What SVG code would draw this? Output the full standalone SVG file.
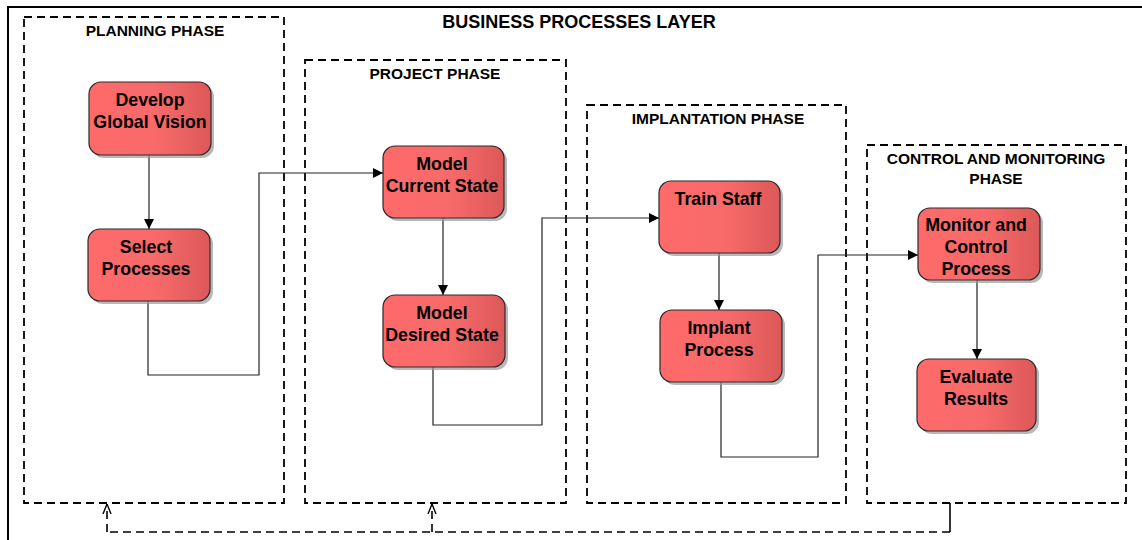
<svg xmlns="http://www.w3.org/2000/svg" width="1142" height="540" viewBox="0 0 1142 540">
  <style>
    .frame { fill: none; stroke: #000; stroke-width: 2; }
    .phase { fill: none; stroke: #000; stroke-width: 1.8; stroke-dasharray: 8 5; }
    .phase-title { font-family: "Liberation Sans", Arial, sans-serif; font-weight: bold; font-size: 15.5px; fill: #000; text-anchor: middle; }
    .layer-title { font-family: "Liberation Sans", Arial, sans-serif; font-weight: bold; font-size: 18px; fill: #000; text-anchor: middle; }
    .node-box { fill: url(#nodeFill); stroke: #2a2a2a; stroke-width: 1.2; }
    .node-shadow { fill: #9a9a9a; opacity: 0.7; }
    .node-label { font-family: "Liberation Sans", Arial, sans-serif; font-weight: bold; font-size: 17.8px; fill: #000; text-anchor: middle; }
    .flow { fill: none; stroke: #222; stroke-width: 1.2; }
    .feedback { fill: none; stroke: #000; stroke-width: 1.6; stroke-dasharray: 8 5; }
    .feedback-solid { fill: none; stroke: #000; stroke-width: 1.6; }
  </style>
  <defs>
    <linearGradient id="nodeFill" x1="0" y1="0" x2="1" y2="0">
      <stop offset="0" stop-color="#ff6a6a"/>
      <stop offset="0.55" stop-color="#f86a6a"/>
      <stop offset="1" stop-color="#dc5858"/>
    </linearGradient>
    <marker id="arrow" viewBox="0 0 10 10" refX="10" refY="5" markerWidth="10" markerHeight="10" markerUnits="userSpaceOnUse" orient="auto">
      <path d="M0,0 L10,5 L0,10 Z" fill="#000"/>
    </marker>
    <marker id="openArrow" viewBox="0 0 10 12" refX="10" refY="6" markerWidth="10" markerHeight="12" markerUnits="userSpaceOnUse" orient="auto">
      <path d="M0,2 L10,6 L0,10" fill="none" stroke="#000" stroke-width="1.4"/>
    </marker>
  </defs>

  <rect width="1142" height="540" fill="#fff"/>

  <!-- outer layer frame (open at the right and bottom) -->
  <path class="frame" d="M8,540 L8,7 L1142,7"/>
  <text class="layer-title" x="579" y="28">BUSINESS PROCESSES LAYER</text>

  <!-- phase containers -->
  <g id="phase-planning">
    <rect class="phase" x="24" y="17" width="260" height="486"/>
    <text class="phase-title" x="155" y="36">PLANNING PHASE</text>
  </g>
  <g id="phase-project">
    <rect class="phase" x="305" y="60" width="261" height="443"/>
    <text class="phase-title" x="435" y="79">PROJECT PHASE</text>
  </g>
  <g id="phase-implantation">
    <rect class="phase" x="587" y="105" width="259" height="398"/>
    <text class="phase-title" x="718" y="124">IMPLANTATION PHASE</text>
  </g>
  <g id="phase-control">
    <rect class="phase" x="867" y="145" width="259" height="358"/>
    <text class="phase-title" x="996" y="164">CONTROL AND MONITORING</text>
    <text class="phase-title" x="996" y="184">PHASE</text>
  </g>

  <!-- connectors -->
  <g id="connectors">
    <path class="flow" d="M149,155 L149,229" marker-end="url(#arrow)"/>
    <path class="flow" d="M148,301 L148,375 L259,375 L259,173 L383,173" marker-end="url(#arrow)"/>
    <path class="flow" d="M443,218 L443,295" marker-end="url(#arrow)"/>
    <path class="flow" d="M433,367 L433,425 L542,425 L542,218 L659,218" marker-end="url(#arrow)"/>
    <path class="flow" d="M719,253 L719,310" marker-end="url(#arrow)"/>
    <path class="flow" d="M721,382 L721,457 L818,457 L818,255 L918,255" marker-end="url(#arrow)"/>
    <path class="flow" d="M977,280 L977,359" marker-end="url(#arrow)"/>

    <!-- feedback loop back to earlier phases -->
    <path class="feedback-solid" d="M950,503 L950,532"/>
    <path class="feedback" d="M950,532 L107,532"/>
    <path class="feedback" d="M107,532 L107,504" marker-end="url(#openArrow)"/>
    <path class="feedback" d="M432,532 L432,504" marker-end="url(#openArrow)"/>
  </g>

  <!-- process nodes -->
  <g id="node-develop-global-vision">
    <rect class="node-shadow" x="92" y="85" width="122" height="73" rx="12"/>
    <rect class="node-box" x="89" y="82" width="122" height="73" rx="12"/>
    <text class="node-label" x="150" y="106">Develop</text>
    <text class="node-label" x="150" y="128">Global Vision</text>
  </g>
  <g id="node-select-processes">
    <rect class="node-shadow" x="91" y="232" width="122" height="72" rx="12"/>
    <rect class="node-box" x="88" y="229" width="122" height="72" rx="12"/>
    <text class="node-label" x="146" y="253">Select</text>
    <text class="node-label" x="146" y="275">Processes</text>
  </g>
  <g id="node-model-current-state">
    <rect class="node-shadow" x="386" y="149" width="121" height="72" rx="12"/>
    <rect class="node-box" x="383" y="146" width="121" height="72" rx="12"/>
    <text class="node-label" x="442" y="170">Model</text>
    <text class="node-label" x="442" y="192">Current State</text>
  </g>
  <g id="node-model-desired-state">
    <rect class="node-shadow" x="386" y="298" width="122" height="72" rx="12"/>
    <rect class="node-box" x="383" y="295" width="122" height="72" rx="12"/>
    <text class="node-label" x="442" y="319">Model</text>
    <text class="node-label" x="442" y="341">Desired State</text>
  </g>
  <g id="node-train-staff">
    <rect class="node-shadow" x="662" y="184" width="121" height="72" rx="12"/>
    <rect class="node-box" x="659" y="181" width="121" height="72" rx="12"/>
    <text class="node-label" x="718" y="205">Train Staff</text>
  </g>
  <g id="node-implant-process">
    <rect class="node-shadow" x="663" y="313" width="122" height="72" rx="12"/>
    <rect class="node-box" x="660" y="310" width="122" height="72" rx="12"/>
    <text class="node-label" x="719" y="334">Implant</text>
    <text class="node-label" x="719" y="356">Process</text>
  </g>
  <g id="node-monitor-control-process">
    <rect class="node-shadow" x="921" y="211" width="122" height="72" rx="12"/>
    <rect class="node-box" x="918" y="208" width="122" height="72" rx="12"/>
    <text class="node-label" x="976" y="231">Monitor and</text>
    <text class="node-label" x="976" y="253">Control</text>
    <text class="node-label" x="976" y="275">Process</text>
  </g>
  <g id="node-evaluate-results">
    <rect class="node-shadow" x="920" y="362" width="119" height="72" rx="12"/>
    <rect class="node-box" x="917" y="359" width="119" height="72" rx="12"/>
    <text class="node-label" x="976" y="383">Evaluate</text>
    <text class="node-label" x="976" y="405">Results</text>
  </g>
</svg>
